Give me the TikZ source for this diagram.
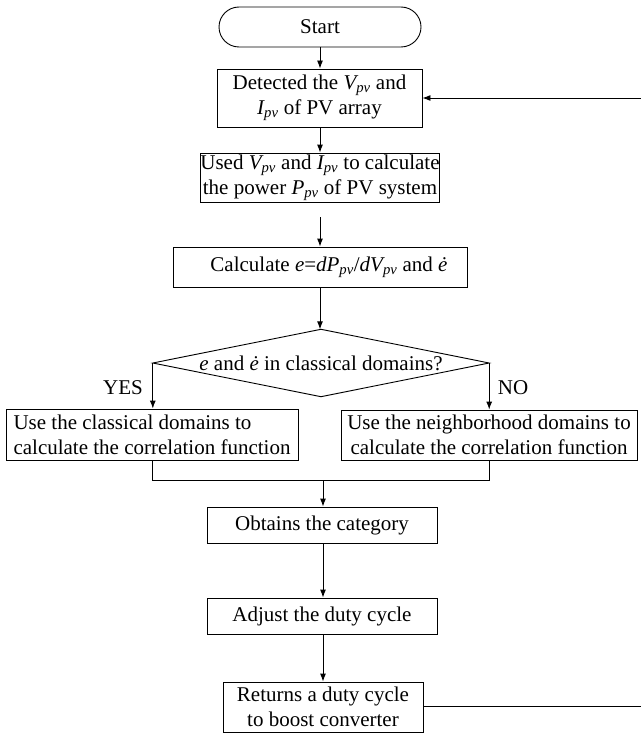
\documentclass[tikz,border=0pt]{standalone}
\usepackage{fontspec}
\setmainfont{Liberation Serif}
\usetikzlibrary{arrows.meta}
\newcommand{\pvs}[1]{{\itshape #1}\textsubscript{\itshape pv}}
\tikzset{
  every node/.style={font=\fontsize{21}{25}\selectfont},
  box/.style={draw, line width=0.9pt, inner sep=0pt, align=center},
  conn/.style={line width=0.9pt},
  arr/.style={conn, -{Latex[length=8pt,width=6pt]}},
  lbl/.style={inner sep=0pt}
}
\begin{document}
\begin{tikzpicture}[x=1pt,y=-1pt]
\useasboundingbox (0,0) rectangle (640,733);

\node[box, rounded corners=20pt, minimum width=202pt, minimum height=40pt] (start) at (320,27) {Start};
\node[box, minimum width=205pt, minimum height=58pt] (det) at (319.5,98) {Detected the \pvs{V} and\\ \pvs{I} of PV array};
\node[box, minimum width=234pt, minimum height=49pt] (used) at (320,177.5) {Used \pvs{V} and \pvs{I} to calculate\\ the power \pvs{P} of PV system};
\node[box, minimum width=294pt, minimum height=40pt] (calc) at (320,267) {\hspace*{18pt}Calculate {\itshape e}={\itshape d}\pvs{P}/{\itshape d}\pvs{V} and {\itshape \.e}};
\node[lbl, minimum width=336pt, minimum height=67pt] (dia) at (321,363) {{\itshape e} and {\itshape \.e} in classical domains?};
\draw[conn] (dia.north) -- (dia.east) -- (dia.south) -- (dia.west) -- cycle;
\node[box, align=left, minimum width=292pt, minimum height=51pt] (lbox) at (152,434.5) {Use the classical domains to\\calculate the correlation function};
\node[box, minimum width=296pt, minimum height=50pt] (rbox) at (489,435) {Use the neighborhood domains to\\calculate the correlation function};
\node[box, minimum width=230pt, minimum height=36pt] (obt) at (322,525) {Obtains the category};
\node[box, minimum width=230pt, minimum height=36pt] (adj) at (322,616) {Adjust the duty cycle};
\node[box, minimum width=200pt, minimum height=50pt] (ret) at (323,707) {Returns a duty cycle\\to boost converter};

\node[lbl] (yes) at (123,388) {YES};
\node[lbl] (no) at (513,388) {NO};

\coordinate (m) at (323,480);
\coordinate (fb1) at (641,706);
\coordinate (fb2) at (641,98);

\draw[arr] (start.south) -- (det.north -| start.south);
\draw[arr] (det.south -| start.south) -- (used.north -| start.south);
\draw[arr, shorten <=15pt] (used.south) -- (calc.north);
\draw[arr] (calc.south) -- (dia.north -| calc.south);
\draw[arr] (dia.west) -- (dia.west |- lbox.north);
\draw[arr] (dia.east) -- (dia.east |- rbox.north);
\draw[conn] (lbox.south) |- (m);
\draw[conn] (rbox.south) |- (m);
\draw[arr] (m) -- (m |- obt.north);
\draw[arr] (obt.south -| m) -- (adj.north -| m);
\draw[arr] (adj.south -| m) -- (ret.north -| m);
\draw[arr] (ret.east |- fb1) -- (fb1) -- (fb2) -- (det.east |- fb2);
\end{tikzpicture}
\end{document}
